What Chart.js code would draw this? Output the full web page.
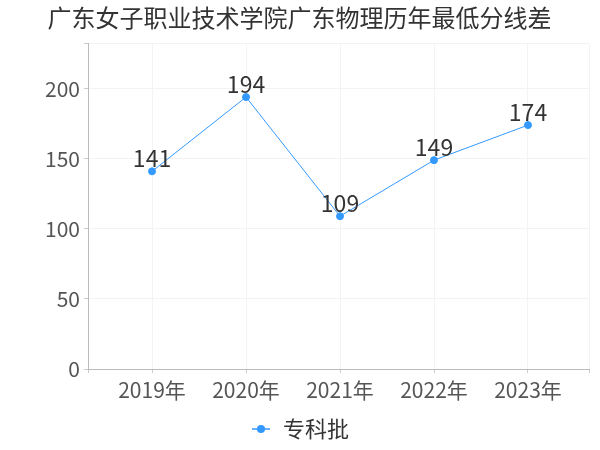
<!DOCTYPE html>
<html>
<head>
<meta charset="utf-8">
<script src="https://cdn.jsdelivr.net/npm/chart.js@4/dist/chart.umd.min.js"></script>
<style>
  html, body { margin: 0; padding: 0; background: #fff; }
  #wrap { width: 600px; height: 450px; }
</style>
</head>
<body>
<div id="wrap"><canvas id="c" width="600" height="450"></canvas></div>
<script>
// chart data
const categories = ['2019年', '2020年', '2021年', '2022年', '2023年'];
const seriesName = '专科批';
const seriesValues = [141, 194, 109, 149, 174];
const yTicks = [0, 50, 100, 150, 200];

const lineColor = '#3399ff';
const font = '"Noto Sans CJK SC", "Noto Sans", sans-serif';

// x range with some room on both sides of the first/last category
const xMin = -0.681, xMax = 4.649;

// legend marker: short line with a dot in the middle
function legendMarker() {
    const cv = document.createElement('canvas');
    cv.width = 18; cv.height = 10;
    const g = cv.getContext('2d');
    g.strokeStyle = lineColor;
    g.lineWidth = 1.5;
    g.beginPath(); g.moveTo(0, 5); g.lineTo(18, 5); g.stroke();
    g.fillStyle = lineColor;
    g.beginPath(); g.arc(9, 5, 4, 0, Math.PI * 2); g.fill();
    return cv;
}

// draw the value above each point
const valueLabels = {
    id: 'valueLabels',
    afterDatasetsDraw(chart) {
        const ctx = chart.ctx;
        const meta = chart.getDatasetMeta(0);
        ctx.save();
        ctx.font = '23px ' + font;
        ctx.fillStyle = '#333';
        ctx.textAlign = 'center';
        ctx.textBaseline = 'alphabetic';
        meta.data.forEach((pt, i) => {
            ctx.fillText(String(seriesValues[i]), pt.x, pt.y - 4);
        });
        ctx.restore();
    }
};

new Chart(document.getElementById('c'), {
    type: 'line',
    data: {
        datasets: [{
            label: seriesName,
            data: seriesValues.map((v, i) => ({ x: i, y: v })),
            borderColor: lineColor,
            backgroundColor: lineColor,
            borderWidth: 1,
            pointStyle: 'circle',
            pointRadius: 3.5,
            pointHoverRadius: 3.5,
            tension: 0
        }]
    },
    options: {
        responsive: false,
        animation: false,
        layout: { padding: { left: 10, right: 11, top: 0, bottom: 0 } },
        plugins: {
            title: {
                display: true,
                text: '广东女子职业技术学院广东物理历年最低分线差',
                align: 'center',
                color: '#333',
                font: { family: font, size: 24, weight: 'normal' },
                padding: { top: 3, bottom: 12 }
            },
            legend: {
                position: 'bottom',
                labels: {
                    usePointStyle: true,
                    pointStyle: legendMarker(),
                    color: '#333',
                    font: { family: font, size: 22 },
                    padding: 2
                }
            },
            tooltip: { enabled: false }
        },
        scales: {
            x: {
                type: 'linear',
                min: xMin,
                max: xMax,
                grid: { color: '#f3f3f3', tickLength: 4, tickColor: '#ccc' },
                border: { color: '#bbb' },
                afterBuildTicks: axis => {
                    axis.ticks = [{ value: xMin }].concat(
                        categories.map((c, i) => ({ value: i })),
                        [{ value: xMax }]);
                },
                afterFit: axis => { axis.height = 47; },
                ticks: {
                    color: '#555',
                    font: { family: font, size: 21 },
                    padding: 4,
                    callback: v => Number.isInteger(v) ? categories[v] : ''
                }
            },
            y: {
                min: 0,
                max: 232,
                grid: { color: '#f3f3f3', tickLength: 4, tickColor: '#ccc' },
                border: { color: '#bbb' },
                afterBuildTicks: axis => {
                    axis.ticks = yTicks.map(v => ({ value: v })).concat([{ value: 232 }]);
                },
                afterFit: axis => { axis.width = 78; },
                ticks: {
                    color: '#555',
                    font: { family: font, size: 21 },
                    padding: 4,
                    callback: v => yTicks.includes(v) ? String(v) : ''
                }
            }
        }
    },
    plugins: [valueLabels]
});
</script>
</body>
</html>
